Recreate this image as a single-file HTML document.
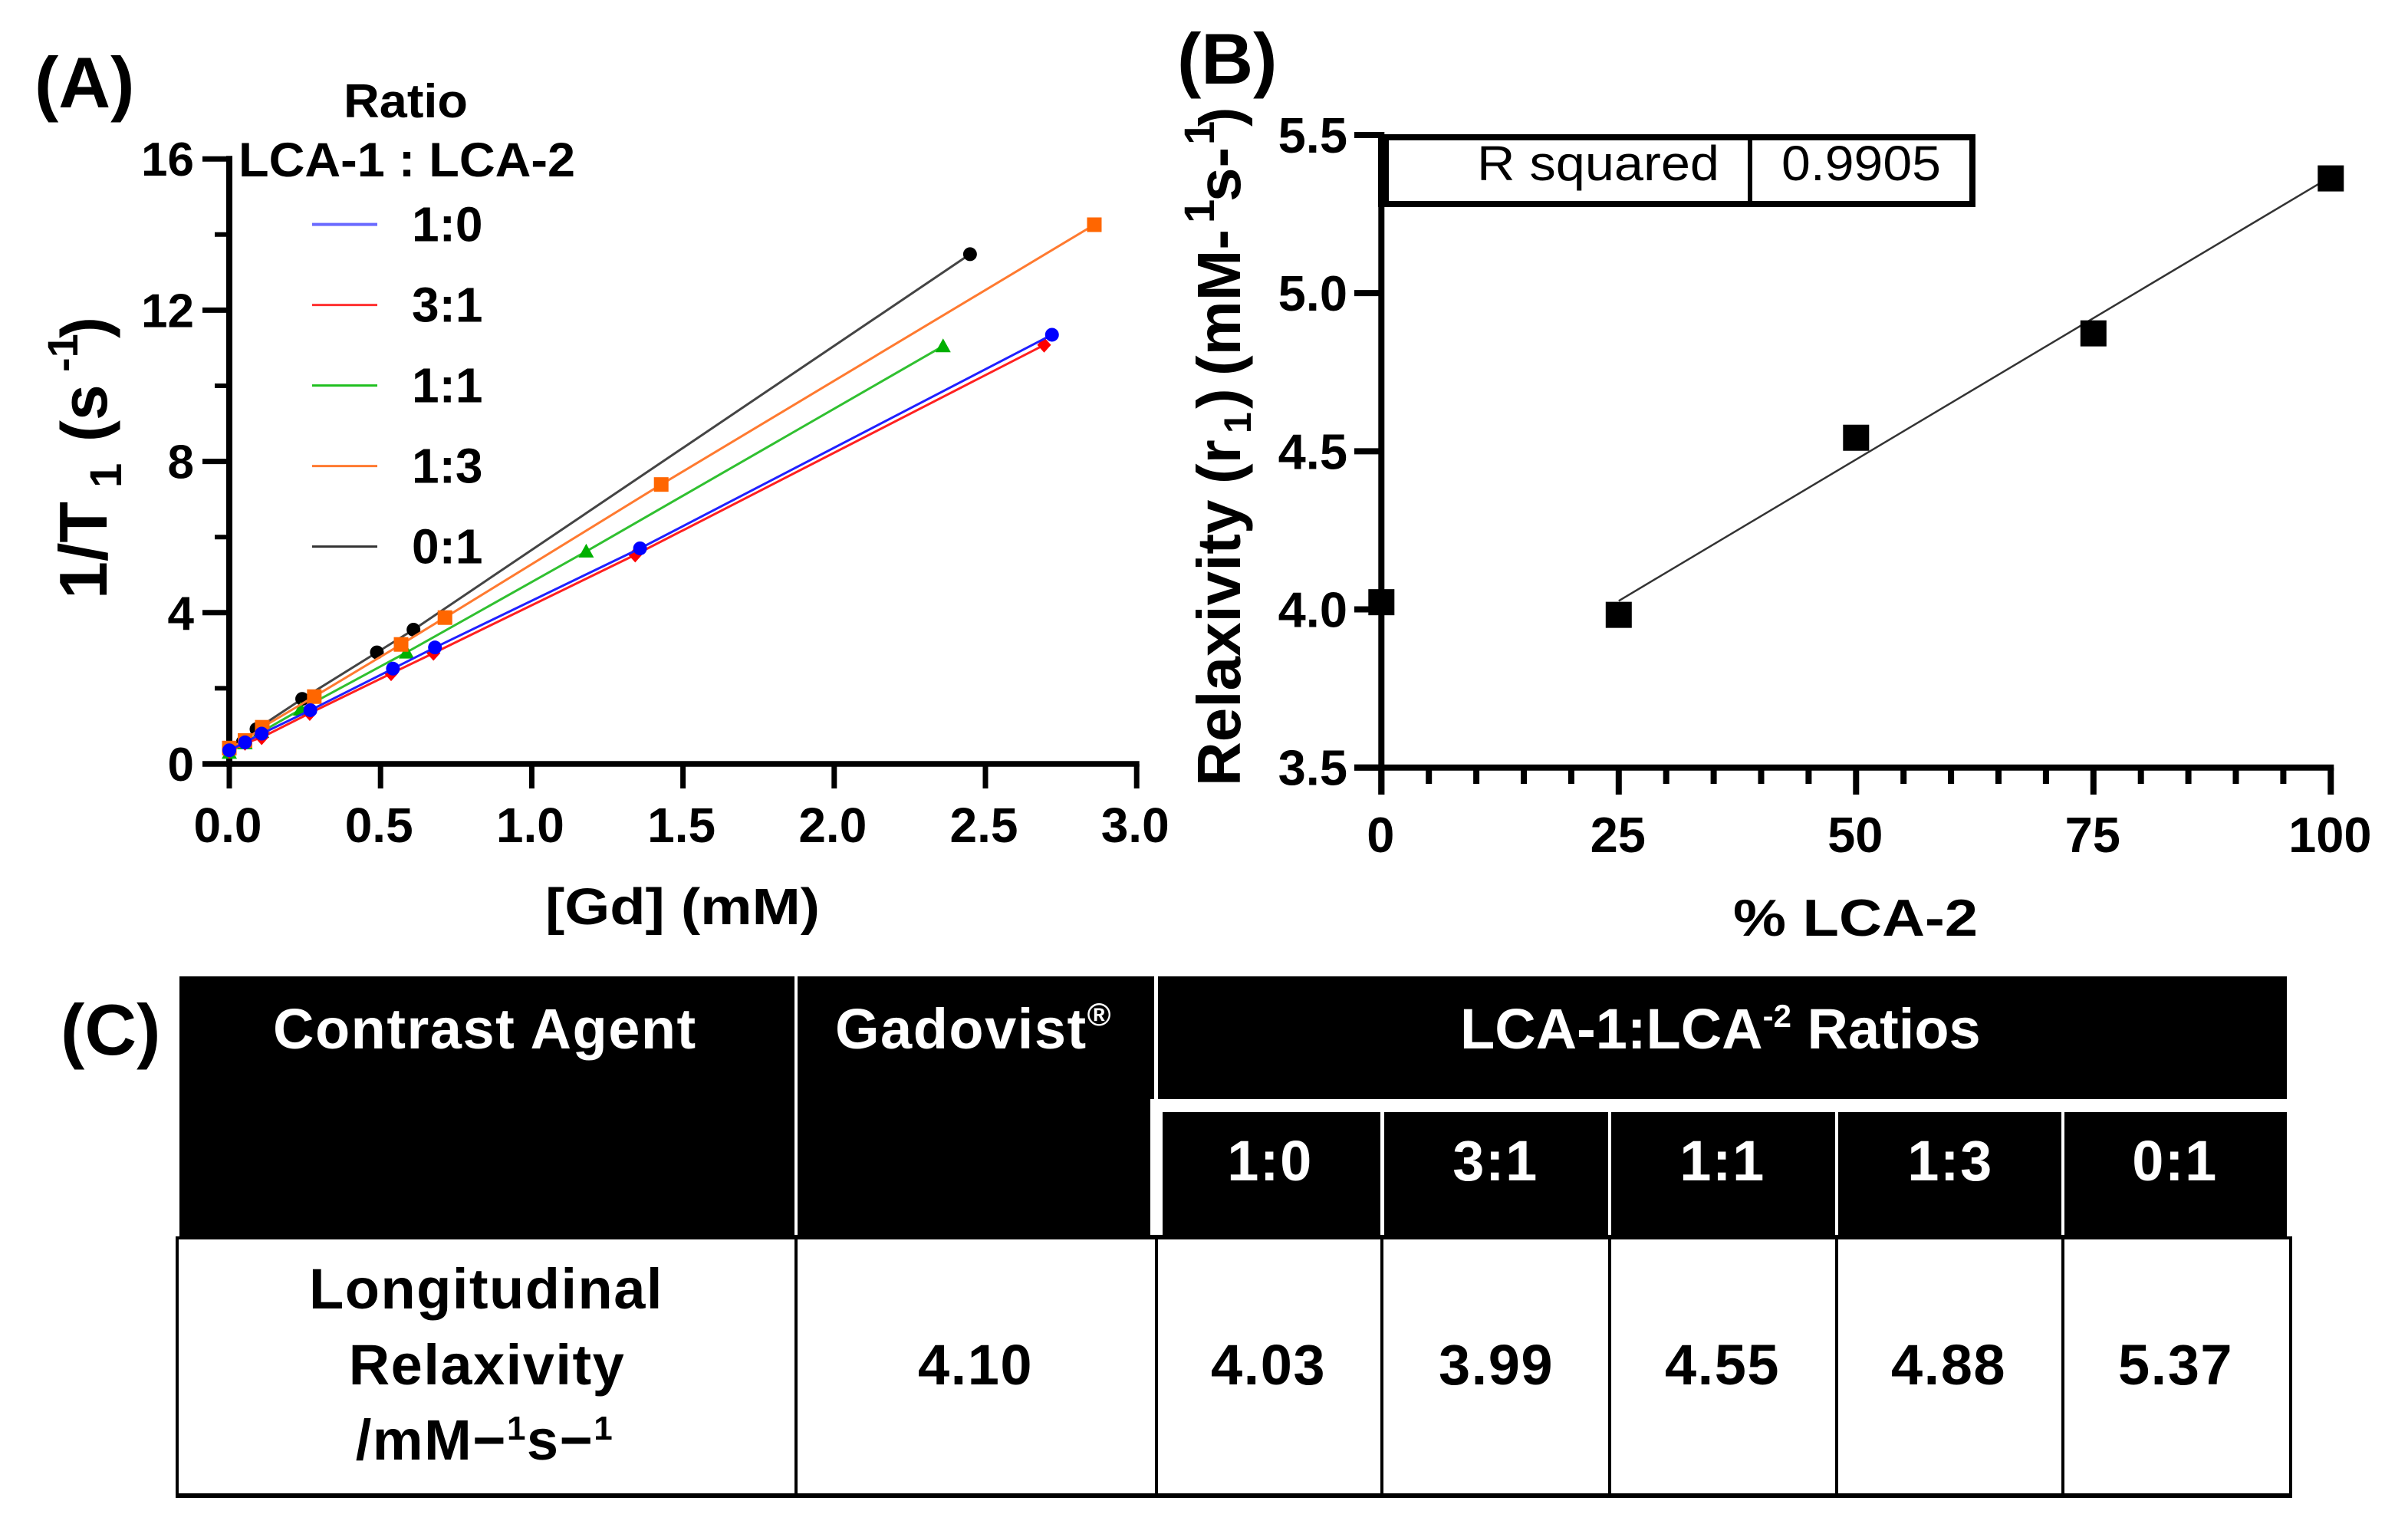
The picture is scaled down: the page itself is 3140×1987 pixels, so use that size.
<!DOCTYPE html>
<html lang="en">
<head>
<meta charset="utf-8">
<title>Relaxivity of LCA-1 : LCA-2 formulations</title>
<style>
html,body{margin:0;padding:0;background:#fff;}
svg{display:block;}
text{font-family:"Liberation Sans",Arial,sans-serif;font-weight:700;fill:#000;}
.tbl{letter-spacing:1.5px;font-size:74px;}
.w{fill:#fff;}
</style>
</head>
<body>
<svg id="fig" xmlns="http://www.w3.org/2000/svg" width="3140" height="1987" viewBox="0 0 3140 1987">
  <rect x="0" y="0" width="3140" height="1987" fill="#fff"/>

  <!-- Panel A -->
  <text x="45" y="140" font-size="94">(A)</text>
  <g id="plotA"></g>
  <text x="448" y="153" font-size="62" textLength="162" lengthAdjust="spacingAndGlyphs">Ratio</text>
  <text x="311" y="230" font-size="63" textLength="439" lengthAdjust="spacingAndGlyphs">LCA-1 : LCA-2</text>
  <g id="legendA"></g>
  <text transform="translate(139,781) rotate(-90)" font-size="88"><tspan x="0" y="0">1/T</tspan><tspan x="145" y="19" font-size="58">1</tspan><tspan x="205" y="0" font-size="84">(s</tspan><tspan x="296" y="-38" font-size="56">-1</tspan><tspan x="340" y="0" font-size="84">)</tspan></text>
  <text x="711" y="1205" font-size="67" textLength="358" lengthAdjust="spacingAndGlyphs">[Gd] (mM)</text>

  <!-- Panel B -->
  <text x="1535" y="109" font-size="94">(B)</text>
  <g id="plotB"></g>
  <text transform="translate(1617,1025) rotate(-90)" font-size="80"><tspan x="0" y="0">Relaxivity</tspan><tspan x="394" y="0">(r</tspan><tspan x="460" y="14" font-size="50">1</tspan><tspan x="492" y="0">)</tspan><tspan x="535" y="0">(mM-</tspan><tspan x="734" y="-34" font-size="56">1</tspan><tspan x="762" y="0">s-</tspan><tspan x="836" y="-34" font-size="56">1</tspan><tspan x="860" y="0" font-size="76">)</tspan></text>
  <text x="2260" y="1220" font-size="68" textLength="319" lengthAdjust="spacingAndGlyphs">% LCA-2</text>

  <g>
    <rect x="1805" y="179" width="767" height="87" fill="#fff" stroke="#000" stroke-width="8"/>
    <rect x="1797" y="176" width="14" height="94" fill="#000"/>
    <rect x="2279" y="179" width="6" height="87" fill="#000"/>
    <text x="1926" y="235" font-size="64" textLength="316" lengthAdjust="spacingAndGlyphs" style="font-weight:400">R squared</text>
    <text x="2323" y="235" font-size="64" textLength="208" lengthAdjust="spacingAndGlyphs" style="font-weight:400">0.9905</text>
  </g>

  <!-- Panel C -->
  <text x="79" y="1375" font-size="94">(C)</text>
  <g>
    <rect x="234" y="1273" width="2748" height="342" fill="#000"/>
    <rect x="231" y="1614" width="2756" height="335" fill="#fff" stroke="#000" stroke-width="4"/>
    <rect x="229" y="1947" width="2760" height="6" fill="#000"/>
    <rect x="1036" y="1273" width="4" height="337" fill="#fff"/>
    <rect x="1505" y="1273" width="5" height="160" fill="#fff"/>
    <rect x="1500" y="1433" width="1482" height="17" fill="#fff"/>
    <rect x="1500" y="1433" width="16" height="177" fill="#fff"/>
    <rect x="1800" y="1450" width="5" height="160" fill="#fff"/>
    <rect x="2097" y="1450" width="4" height="160" fill="#fff"/>
    <rect x="2393" y="1450" width="4" height="160" fill="#fff"/>
    <rect x="2688" y="1450" width="4" height="160" fill="#fff"/>
    <rect x="1036" y="1615" width="4" height="333" fill="#000"/>
    <rect x="1506" y="1615" width="4" height="333" fill="#000"/>
    <rect x="1800" y="1615" width="4" height="333" fill="#000"/>
    <rect x="2097" y="1615" width="4" height="333" fill="#000"/>
    <rect x="2393" y="1615" width="4" height="333" fill="#000"/>
    <rect x="2688" y="1615" width="4" height="333" fill="#000"/>

    <text class="tbl w" x="356" y="1367">Contrast Agent</text>
    <text class="tbl w" x="1089" y="1367">Gadovist<tspan font-size="42" dy="-30" letter-spacing="0">®</tspan></text>
    <text class="tbl w" x="1904" y="1367" style="letter-spacing:0">LCA-1:LCA<tspan font-size="42" dy="-28">-2</tspan><tspan dy="28"> Ratios</tspan></text>

    <text class="tbl w" text-anchor="middle" x="1656" y="1539">1:0</text>
    <text class="tbl w" text-anchor="middle" x="1950" y="1539">3:1</text>
    <text class="tbl w" text-anchor="middle" x="2246" y="1539">1:1</text>
    <text class="tbl w" text-anchor="middle" x="2543" y="1539">1:3</text>
    <text class="tbl w" text-anchor="middle" x="2836" y="1539">0:1</text>

    <text class="tbl" text-anchor="middle" x="634" y="1706">Longitudinal</text>
    <text class="tbl" text-anchor="middle" x="635" y="1805">Relaxivity</text>
    <text class="tbl" text-anchor="middle" x="632" y="1903">/mM−<tspan font-size="44" dy="-26">1</tspan><tspan dy="26">s−</tspan><tspan font-size="44" dy="-26">1</tspan></text>

    <text class="tbl" text-anchor="middle" x="1272" y="1805">4.10</text>
    <text class="tbl" text-anchor="middle" x="1654" y="1805">4.03</text>
    <text class="tbl" text-anchor="middle" x="1951" y="1805">3.99</text>
    <text class="tbl" text-anchor="middle" x="2246" y="1805">4.55</text>
    <text class="tbl" text-anchor="middle" x="2541" y="1805">4.88</text>
    <text class="tbl" text-anchor="middle" x="2837" y="1805">5.37</text>
  </g>
</svg>

<script>
// ---- Panel A data ----
const aXTicks = [0, 0.5, 1, 1.5, 2, 2.5, 3];
const aXTickLabels = ['0.0', '0.5', '1.0', '1.5', '2.0', '2.5', '3.0'];
const aYTicks = [0, 4, 8, 12, 16];
const aYTickLabels = ['0', '4', '8', '12', '16'];
const aYMinorTicks = [2, 6, 10, 14];
const legendLabels = ['1:0', '3:1', '1:1', '1:3', '0:1'];

const gd_0_1 = [0, 0.045, 0.09, 0.241, 0.488, 0.609, 2.449];
const r_0_1 = [0.36, 0.58, 0.92, 1.72, 2.95, 3.55, 13.48];
const gd_1_1 = [0, 0.052, 0.107, 0.236, 0.586, 1.18, 2.36];
const r_1_1 = [0.30, 0.55, 0.85, 1.44, 2.95, 5.62, 11.05];
const gd_1_3 = [0, 0.052, 0.109, 0.281, 0.568, 0.713, 1.428, 2.86];
const r_1_3 = [0.42, 0.62, 0.97, 1.78, 3.16, 3.87, 7.39, 14.26];
const gd_3_1 = [0, 0.052, 0.107, 0.266, 0.535, 0.675, 1.342, 2.694];
const r_3_1 = [0.34, 0.55, 0.70, 1.34, 2.39, 2.93, 5.53, 11.08];
const gd_1_0 = [0, 0.052, 0.107, 0.268, 0.541, 0.68, 1.358, 2.72];
const r_1_0 = [0.36, 0.57, 0.80, 1.42, 2.52, 3.08, 5.70, 11.35];

// ---- Panel B data ----
const bXTicks = [0, 25, 50, 75, 100];
const bXTickLabels = ['0', '25', '50', '75', '100'];
const bXMinorTicks = [5, 10, 15, 20, 30, 35, 40, 45, 55, 60, 65, 70, 80, 85, 90, 95];
const bYTicks = [3.5, 4, 4.5, 5, 5.5];
const bYTickLabels = ['3.5', '4.0', '4.5', '5.0', '5.5'];
const percentLca2 = [0, 25, 50, 75, 100];
const relaxivity = [4.03, 3.99, 4.55, 4.88, 5.37];

const NS = 'http://www.w3.org/2000/svg';
function make(tag, parent, attrs) {
  const el = document.createElementNS(NS, tag);
  for (const k in attrs) el.setAttribute(k, attrs[k]);
  parent.appendChild(el);
  return el;
}

// axis functions
const ax = v => 299 + 394.4 * v;
const ay = v => 996 - 49.3 * v;
const bx = v => 1801.3 + 12.38 * v;
const by = v => 1000.7 - 412.35 * (v - 3.5);

// ---- Panel A axes ----
const plotA = document.getElementById('plotA');
let el;
el = make('line', plotA, {x1: ax(0), x2: ax(0), y1: ay(16) - 4, y2: ay(0) + 4, stroke: '#000', 'stroke-width': 8});


el = make('line', plotA, {x1: 264, x2: ax(3) + 3.5, y1: ay(0), y2: ay(0), stroke: '#000', 'stroke-width': 7.5});



aXTicks.forEach((t, i) => {
  const tick = make('line', plotA, {x1: ax(t), x2: ax(t), y1: ay(0), y2: 1028, stroke: '#000', 'stroke-width': 7});
  
  
  const lab = make('text', plotA, {x: ax(t) - 2, y: 1098, 'font-size': 64, 'text-anchor': 'middle'});
  lab.textContent = aXTickLabels[i];
  
  
});
aYTicks.forEach((t, i) => {
  const tick = make('line', plotA, {x1: 264, x2: ax(0), y1: ay(t), y2: ay(t), stroke: '#000', 'stroke-width': 7});
  
  
  const lab = make('text', plotA, {x: 253, y: ay(t) + 22, 'font-size': 62, 'text-anchor': 'end'});
  lab.textContent = aYTickLabels[i];
  
  
});
aYMinorTicks.forEach(t => {
  const tick = make('line', plotA, {x1: 280, x2: ax(0), y1: ay(t), y2: ay(t), stroke: '#000', 'stroke-width': 6});
  
  
});

// ---- Panel A series ----
function marker(parent, kind, cx, cy, color) {
  if (kind === 'circle') return make('circle', parent, {cx: cx, cy: cy, r: 9, fill: color});
  if (kind === 'square') return make('rect', parent, {x: cx - 9.5, y: cy - 9.5, width: 19, height: 19, fill: color});
  if (kind === 'triangle') return make('polygon', parent, {points: (cx - 10) + ',' + (cy + 8) + ' ' + (cx + 10) + ',' + (cy + 8) + ' ' + cx + ',' + (cy - 10), fill: color});
  return make('polygon', parent, {points: cx + ',' + (cy - 10) + ' ' + (cx + 9) + ',' + cy + ' ' + cx + ',' + (cy + 10) + ' ' + (cx - 9) + ',' + cy, fill: color});
}

function drawSeries(key, xs, ys, color, lineColor, kind) {
  const g = make('g', plotA, {});
  
  
  const pts = xs.map((x, i) => ax(x).toFixed(1) + ',' + ay(ys[i]).toFixed(1)).join(' ');
  const line = make('polyline', g, {points: pts, fill: 'none', stroke: lineColor, 'stroke-width': 3});
  
  
  xs.forEach((x, i) => {
    const m = marker(g, kind, ax(x), ay(ys[i]), color);
    
    
  });
}
drawSeries('0-1', gd_0_1, r_0_1, '#000', '#444', 'circle');
drawSeries('1-1', gd_1_1, r_1_1, '#00b000', '#30c030', 'triangle');
drawSeries('1-3', gd_1_3, r_1_3, '#ff6600', '#ff7a30', 'square');
drawSeries('3-1', gd_3_1, r_3_1, '#ff0000', '#ff2020', 'diamond');
drawSeries('1-0', gd_1_0, r_1_0, '#0000ff', '#2020ff', 'circle');

// ---- Legend ----
const legendA = document.getElementById('legendA');
const legendColors = ['#6a6aff', '#ff3030', '#20c020', '#ff7a30', '#333'];
legendLabels.forEach((label, i) => {
  const cy = 292.6 + 105 * i;
  const sw = make('line', legendA, {x1: 407, x2: 492, y1: cy, y2: cy, stroke: legendColors[i], 'stroke-width': i === 0 ? 4 : 3});
  
  
  const t = make('text', legendA, {x: 537, y: cy + 22, 'font-size': 64});
  t.textContent = label;
  
  
});

// ---- Panel B ----
const plotB = document.getElementById('plotB');
el = make('line', plotB, {x1: bx(0), x2: bx(0), y1: 172, y2: 1036, stroke: '#000', 'stroke-width': 8});


el = make('line', plotB, {x1: 1766, x2: bx(100) + 4, y1: by(3.5), y2: by(3.5), stroke: '#000', 'stroke-width': 8});



bXTicks.forEach((t, i) => {
  const tick = make('line', plotB, {x1: bx(t), x2: bx(t), y1: by(3.5), y2: 1036, stroke: '#000', 'stroke-width': 8});
  
  
  const lab = make('text', plotB, {x: bx(t) - 1, y: 1111, 'font-size': 65, 'text-anchor': 'middle'});
  lab.textContent = bXTickLabels[i];
  
  
});
bXMinorTicks.forEach(t => {
  const tick = make('line', plotB, {x1: bx(t), x2: bx(t), y1: by(3.5), y2: 1022, stroke: '#000', 'stroke-width': 8});
  
  
});
bYTicks.forEach((t, i) => {
  const tick = make('line', plotB, {x1: 1766, x2: bx(0), y1: by(t), y2: by(t), stroke: '#000', 'stroke-width': 8});
  
  
  const lab = make('text', plotB, {x: 1757, y: by(t) + 23, 'font-size': 65, 'text-anchor': 'end'});
  lab.textContent = bYTickLabels[i];
  
  
});

// least-squares fit over the points that contain LCA-2 (the 0% point is excluded)
const fitX = percentLca2.slice(1);
const fitY = relaxivity.slice(1);
const mx = fitX.reduce((a, b) => a + b, 0) / fitX.length;
const my = fitY.reduce((a, b) => a + b, 0) / fitY.length;
let sxy = 0, sxx = 0;
fitX.forEach((x, i) => { sxy += (x - mx) * (fitY[i] - my); sxx += (x - mx) * (x - mx); });
const slope = sxy / sxx;
const xa = fitX[0], xb = fitX[fitX.length - 1];
el = make('line', plotB, {x1: bx(xa), y1: by(my + slope * (xa - mx)), x2: bx(xb), y2: by(my + slope * (xb - mx)), stroke: '#333', 'stroke-width': 2.5});



percentLca2.forEach((x, i) => {
  const p = make('rect', plotB, {x: bx(x) - 17, y: by(relaxivity[i]) - 14, width: 34, height: 34, fill: '#000'});
  
  
});
</script>
</body>
</html>
